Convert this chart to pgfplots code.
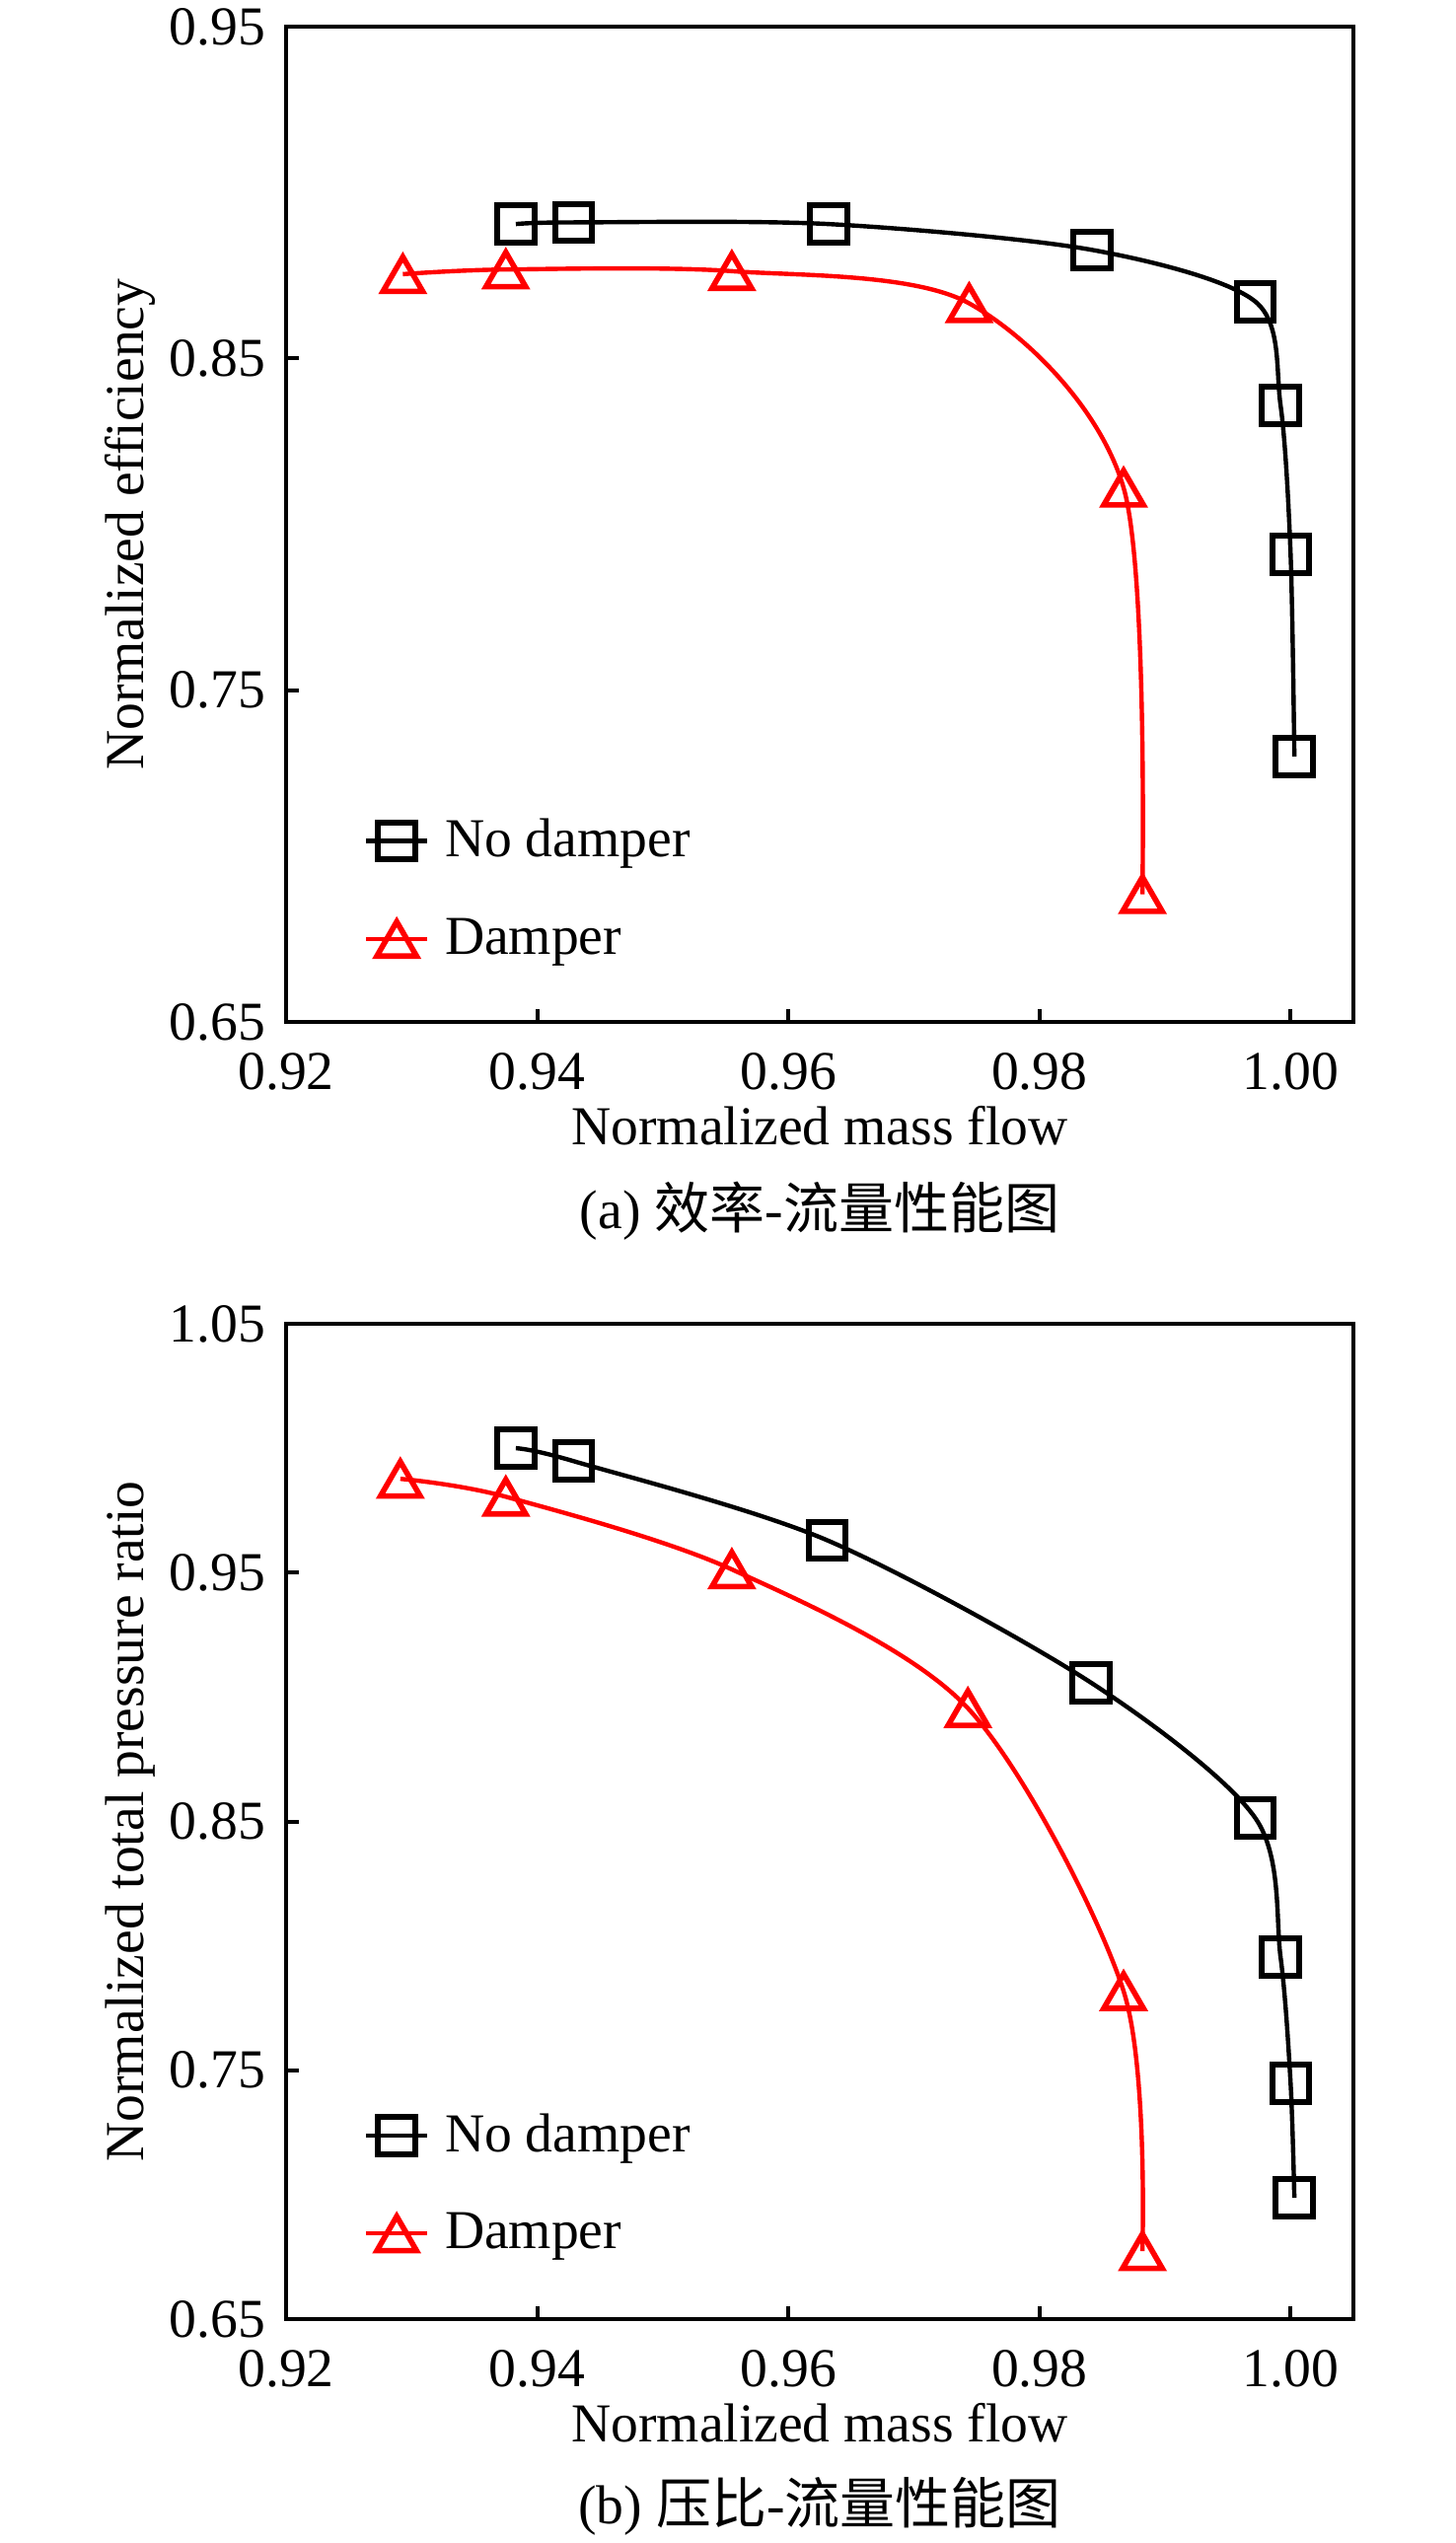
\documentclass[border=0pt]{standalone}
\usepackage{fontspec}
\setmainfont{Liberation Serif}
\newfontfamily\cjk{Noto Sans CJK SC}
\usepackage{pgfplots}
\pgfplotsset{compat=1.18}
\newcommand\fs{\fontsize{13.9}{16.5}\selectfont}
\newcommand\cj[1]{{\cjk\fontsize{14}{17}\selectfont #1}}
\pgfplotsset{
  myaxis/.style={
    scale only axis, width=270.5pt, height=252.25pt,
    clip mode=individual,
    xmin=0.92, xmax=1.005,
    xtick={0.92,0.94,0.96,0.98,1.00},
    tick align=inside, xtick pos=bottom, ytick pos=left,
    major tick length=3.3pt,
    axis line style={line width=1pt},
    every tick/.style={line width=1pt, black},
    xticklabel style={font=\fs, anchor=north, inner sep=0pt, yshift=-7.75pt,
      /pgf/number format/assume math mode=true,
      /pgf/number format/fixed, /pgf/number format/fixed zerofill, /pgf/number format/precision=2},
    yticklabel style={font=\fs, anchor=east, inner sep=0pt, xshift=-5pt,
      /pgf/number format/assume math mode=true,
      /pgf/number format/fixed, /pgf/number format/fixed zerofill, /pgf/number format/precision=2},
    xlabel={Normalized mass flow},
    xlabel style={font=\fs, at={(axis description cs:0.5,-0.1229)}, anchor=base, inner sep=0pt},
    ylabel style={font=\fs, at={(axis description cs:-0.1331,0.5)}, anchor=base, inner sep=0pt, rotate=0},
    legend cell align=left,
    legend style={draw=none, fill=none, font=\fs, anchor=west, inner sep=0pt, row sep=10pt, column sep=2pt},
    legend image code/.code={\draw[mark repeat=2,mark phase=2,##1] plot coordinates {(0cm,0cm) (0.27cm,0cm) (0.54cm,0cm)};},
  },
  nodamp/.style={black, line width=1.1pt, smooth, mark=square, mark size=4.7pt,
    mark options={line width=1.5pt, solid, fill=none}},
  damp/.style={red, line width=1.1pt, smooth, mark=triangle, mark size=5.8pt,
    mark options={line width=1.4pt, solid, fill=none, yshift=-1.45pt}},
}
\begin{document}
\begin{tikzpicture}
\path[use as bounding box] (0,0) rectangle (369pt,-644.5pt);
\begin{axis}[myaxis, at={(72.5pt,-259pt)}, anchor=south west,
  ymin=0.65, ymax=0.95, ytick={0.65,0.75,0.85,0.95},
  ylabel={Normalized efficiency},
  legend style={at={(axis description cs:0.0725,0.1333)}}]
\addplot[nodamp] coordinates {
(0.9383,0.8905) (0.9429,0.8910) (0.9632,0.8905) (0.9842,0.8827)
(0.9972,0.8671) (0.9992,0.8359) (1.0000,0.7910) (1.0003,0.7300)};
\addlegendentry{No damper}
\addplot[damp] coordinates {
(0.9293,0.8754) (0.9375,0.8768) (0.9555,0.8763) (0.9744,0.8666)
(0.9867,0.8110) (0.9882,0.6885)};
\addlegendentry{Damper}
\node[font=\fs, anchor=base, inner sep=0pt] at (axis description cs:0.5,-0.2081) {(a) \cj{效率}-\cj{流量性能图}};
\end{axis}
\begin{axis}[myaxis, at={(72.5pt,-587.75pt)}, anchor=south west,
  ymin=0.65, ymax=1.05, ytick={0.65,0.75,0.85,0.95,1.05},
  ylabel={Normalized total pressure ratio},
  legend style={at={(axis description cs:0.0725,0.1358)}}]
\addplot[nodamp] coordinates {
(0.9383,1.0000) (0.9429,0.9948) (0.9631,0.9630) (0.9841,0.9058)
(0.9972,0.8513) (0.9992,0.7955) (1.0000,0.7448) (1.0003,0.6987)};
\addlegendentry{No damper}
\addplot[damp] coordinates {
(0.9291,0.9877) (0.9375,0.9805) (0.9555,0.9513) (0.9743,0.8955)
(0.9867,0.7818) (0.9882,0.6773)};
\addlegendentry{Damper}
\node[font=\fs, anchor=base, inner sep=0pt] at (axis description cs:0.5,-0.2061) {(b) \cj{压比}-\cj{流量性能图}};
\end{axis}
\end{tikzpicture}
\end{document}
